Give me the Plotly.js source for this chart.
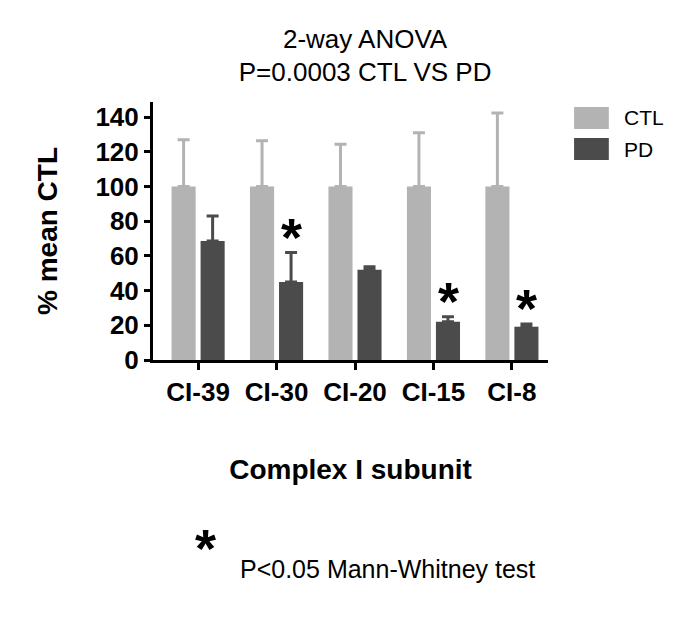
<!DOCTYPE html>
<html>
<head>
<meta charset="utf-8">
<script src="https://cdn.plot.ly/plotly-3.0.1.min.js"></script>
<style>
  body { margin: 0; background: #fff; }
  #chart { width: 685px; height: 617px; }
</style>
</head>
<body>
<div id="chart"></div>
<script>
// Complex I subunits, expressed as % of mean control
var subunits = ['CI-39', 'CI-30', 'CI-20', 'CI-15', 'CI-8']
var ctlMean = [100, 100, 100, 100, 100]
var ctlErr = [27, 26.5, 24.5, 31, 42.5]
var pdMean = [68.7, 45, 52, 22, 19.2]
var pdErr = [14.3, 17, 1.8, 3, 1.5]
var significant = [false, true, false, true, true]

var bold = "'Liberation Sans', Arial, sans-serif"
var plain = "'Liberation Sans', Arial, sans-serif"

var ctl = {
    type: 'bar',
    name: 'CTL',
    x: subunits,
    y: ctlMean,
    marker: { color: '#b3b3b3' },
    error_y: {
        type: 'data', symmetric: false,
        array: ctlErr, arrayminus: ctlErr.map(function () { return 0 }),
        color: '#b3b3b3', thickness: 3, width: 6
    }
}

var pd = {
    type: 'bar',
    name: 'PD',
    x: subunits,
    y: pdMean,
    marker: { color: '#4b4b4b' },
    error_y: {
        type: 'data', symmetric: false,
        array: pdErr, arrayminus: pdErr.map(function () { return 0 }),
        color: '#4b4b4b', thickness: 3, width: 6
    }
}

var annotations = []
// significance stars above the PD bars
for (let i = 0; i < subunits.length; i++) {
    if (!significant[i]) continue
    annotations.push({
        x: subunits[i], y: pdMean[i] + pdErr[i],
        xref: 'x', yref: 'y',
        text: '*', showarrow: false,
        xshift: 15, yshift: -16, yanchor: 'bottom',
        font: { family: plain, size: 54, color: '#000', weight: 'bold' }
    })
}

// legend drawn by hand (large swatches)
var legendItems = [['CTL', '#b3b3b3', 0.981, 0.895], ['PD', '#4b4b4b', 0.860, 0.775]]
var shapes = []
legendItems.forEach(function (it) {
    shapes.push({
        type: 'rect', xref: 'paper', yref: 'paper',
        x0: 1.066, x1: 1.154, y0: it[3], y1: it[2],
        fillcolor: it[1], line: { width: 0 }
    })
    annotations.push({
        xref: 'paper', yref: 'paper', x: 1.187, y: (it[2] + it[3]) / 2,
        xanchor: 'left', yanchor: 'middle', showarrow: false,
        text: it[0], font: { family: plain, size: 21, color: '#000' }
    })
})

// footnote
annotations.push({
    xref: 'paper', yref: 'paper', x: 0.134, y: -0.73,
    text: '*', showarrow: false, xanchor: 'center', yanchor: 'middle',
    font: { family: plain, size: 54, color: '#000', weight: 'bold' }
})
annotations.push({
    xref: 'paper', yref: 'paper', x: 0.215, y: -0.81,
    text: 'P<0.05 Mann-Whitney test', showarrow: false,
    xanchor: 'left', yanchor: 'middle',
    font: { family: plain, size: 25, color: '#000' }
})

var layout = {
    width: 685,
    height: 617,
    margin: { l: 153, r: 137, t: 102, b: 257 },
    paper_bgcolor: '#fff',
    plot_bgcolor: '#fff',
    showlegend: false,
    barmode: 'group',
    bargap: 0.26,
    bargroupgap: 0.17,
    title: {
        text: '2-way ANOVA<br>P=0.0003 CTL VS PD',
        x: 0.533, xanchor: 'center',
        y: 0.923, yanchor: 'middle', yref: 'container',
        font: { family: plain, size: 26, color: '#000' }
    },
    xaxis: {
        range: [-0.575, 4.46],
        showline: true, linecolor: '#000', linewidth: 3,
        ticks: 'outside', ticklen: 7, tickwidth: 3, tickcolor: '#000',
        tickfont: { family: bold, size: 26, color: '#000', weight: 'bold' },
        showgrid: false, zeroline: false,
        title: {
            text: 'Complex I subunit', standoff: 54,
            font: { family: bold, size: 28, color: '#000', weight: 'bold' }
        }
    },
    yaxis: {
        range: [0, 148.8],
        tickvals: [0, 20, 40, 60, 80, 100, 120, 140],
        showline: true, linecolor: '#000', linewidth: 3,
        ticks: 'outside', ticklen: 6, tickwidth: 3, tickcolor: '#000',
        tickfont: { family: bold, size: 26, color: '#000', weight: 'bold' },
        showgrid: false, zeroline: false,
        title: {
            text: '% mean CTL', standoff: 30,
            font: { family: bold, size: 28, color: '#000', weight: 'bold' }
        }
    },
    shapes: shapes,
    annotations: annotations
}

Plotly.newPlot('chart', [ctl, pd], layout, { displayModeBar: false })
</script>
</body>
</html>
